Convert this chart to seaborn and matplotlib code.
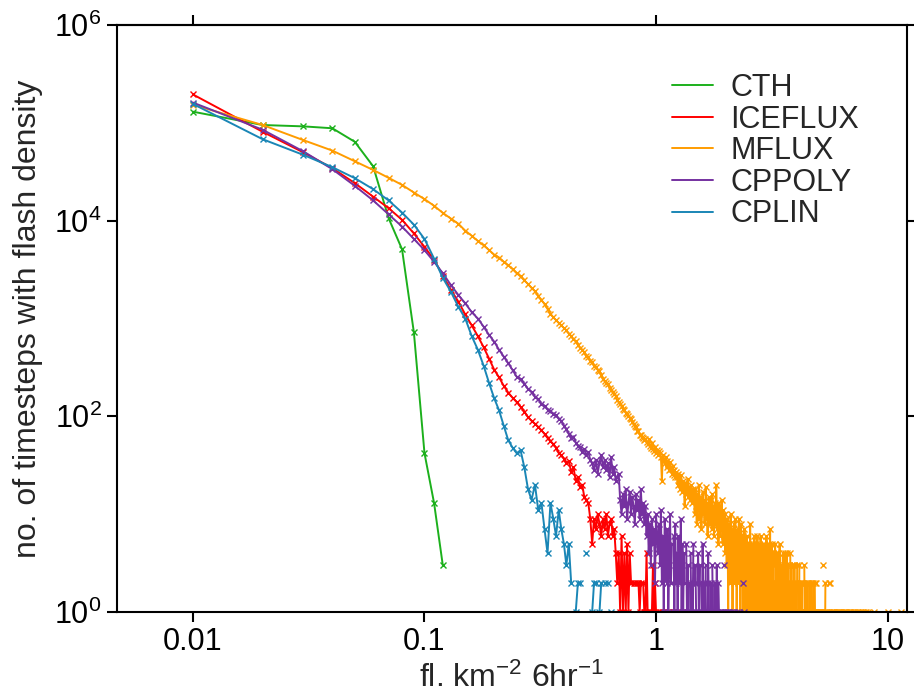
import numpy as np
import pandas as pd
import matplotlib
matplotlib.use("Agg")
import matplotlib.pyplot as plt
import seaborn as sns
from matplotlib.lines import Line2D
from matplotlib.ticker import FixedLocator, FixedFormatter, NullLocator, NullFormatter

# ---------------- data (counts per 0.01-wide flash-density bin, first bin = 0.01) ----------------
BIN_WIDTH = 0.01
series_names = ["CTH", "ICEFLUX", "MFLUX", "CPPOLY", "CPLIN"]
series_colors = ["#1cb01c", "#ff0000", "#ff9c00", "#7531a0", "#1a86b6"]

cth_counts = [130000, 95000, 92000, 88000, 64000, 36000, 10600, 5100, 720, 42, 13, 3]

iceflux_counts = [
    195000, 81000, 49800, 34400, 24200, 17600, 13400, 10200, 7400, 5400, 4000, 2750,
    1970, 1490, 1100, 850, 660, 510, 390, 300, 250, 205, 175,
    155, 140, 125, 112, 98, 90, 84, 78, 72, 66, 60, 56, 52, 48, 42, 40, 37, 33, 35, 27,
    30, 22, 24, 19, 20, 15, 14, 13,
    9, 5, 9, 7, 10, 8, 6, 9, 7, 10, 6, 8, 9, 6, 7, 4, 2, 4, 1, 6, 1, 4, 1, 5, 1, 4, 2,
    0, 2, 2, 0, 2, 2, 1, 2, 0, 2, 1, 1, 4, 1, 0, 1, 1, 1, 3, 1, 2, 1,
    0, 1, 0, 1, 0, 0, 1, 0, 1, 1, 0, 0, 1, 0, 1, 0, 0, 1, 0, 1, 0, 0, 0, 1, 0, 0, 1, 0, 0, 1,
]

mflux_counts = [
    153000, 95000, 66500, 52000, 40500, 33000, 27400, 23200, 19400, 16600, 14200, 12000,
    10500, 9300, 7900, 7000, 6200, 5600, 5000, 4500, 4200, 3800, 3500, 3200, 2900,
    2700, 2450, 2250, 2050, 1900, 1700, 1550, 1400, 1250, 1120, 1030, 960, 900, 850, 800, 760,
    700, 665, 612, 585, 538, 505, 482, 452, 418, 405, 368, 362, 328, 322, 298, 288, 262, 238, 232,
    220, 212, 194, 186, 176, 168, 161, 148, 141, 134, 128, 119, 116, 109, 106,
    100, 97, 93, 87, 83, 79, 77, 71, 70, 65, 64, 61, 60, 57, 58, 55,
    52, 58, 50, 48, 54, 46, 44, 49, 42, 45, 40, 44, 42,
    38, 22, 40, 36, 33, 38, 30, 35, 32, 28, 34, 29, 26, 31, 25, 28, 24, 27,
    24, 20, 26, 22, 18, 25, 20, 17, 22, 19, 12, 21, 16, 18, 23, 15, 19, 14, 20, 17, 13, 18, 16,
    14, 10, 18, 12, 8, 16, 11, 20, 9, 13, 15, 7, 12, 17, 10,
    14, 8, 11, 19, 9, 13, 6, 12, 15, 10, 8, 14, 11, 7, 16, 9, 12, 6, 10, 13,
    8, 20, 11, 7, 13, 5, 9, 12, 6, 10, 8, 14, 7, 5, 11, 8, 6, 10, 4, 9,
    7, 3, 9, 5, 1, 8, 4, 6, 2, 10, 5, 3, 7, 1, 6, 4, 8, 2, 5, 9, 3, 6, 1, 4, 7,
    2, 5, 9, 3, 6, 1, 4, 8, 2, 5, 3, 1, 6, 4, 2, 7, 3, 1, 5, 2, 4, 6, 1, 3, 2, 5, 1, 4, 2, 8,
    3, 1, 4, 2, 5,
    3, 5, 1, 4, 2, 6, 1, 3, 5, 2, 4, 1, 3, 6, 2, 4, 1, 5, 3, 1, 4, 2, 6, 1, 3, 4, 1, 2, 5, 1,
    3, 2, 1, 5, 2, 1, 4, 1, 3, 6, 1, 2, 4, 1, 3, 1, 5, 2, 1, 3, 7, 2, 1, 4, 1, 2, 5, 1, 3, 1,
    4, 1, 2, 1, 0, 3, 5, 1, 2, 1, 4, 1, 0, 2, 1, 3, 4, 1, 0, 1, 2, 5, 1, 2, 0, 1, 3, 2, 1, 0,
    2, 1, 4, 1, 2, 0, 1, 3, 1, 4,
    1, 0, 2, 1, 3, 0, 1, 4, 1, 0, 2, 1, 1, 3, 0, 1, 2, 1, 0, 4, 1, 2, 0, 1, 1, 3, 0, 1, 2, 1,
    0, 1, 3, 0, 1, 3, 1, 0, 2, 1, 1, 0, 2, 1, 0, 1, 3, 0, 1, 1, 0, 2, 1, 0, 1, 3, 0, 1, 2, 1,
    0, 1, 2, 0, 1, 0, 1, 2, 0, 1, 1, 0, 2, 0, 1, 0, 3, 1, 0, 1, 2, 0, 0, 1, 1, 0, 2, 1, 0, 1,
    0, 1, 2, 0, 1, 0, 0, 1, 2, 0, 1, 0, 1, 0, 2, 1, 0, 0, 1, 0, 2, 1, 0, 1, 0, 0, 1, 2, 0, 1,
    0, 1, 0, 0, 2, 1, 0, 1, 0, 0, 1, 0, 2, 0, 1, 0, 0, 1, 0, 1,
]
# sparse far tail of MFLUX: bin index (x = index * 0.01) and count
mflux_tail_bins = [503, 504, 508, 511, 512, 517, 522, 528, 531, 538, 539, 544, 549, 556, 560,
                   565, 571, 578, 584, 585, 590, 597, 603, 611, 618, 624, 632, 640, 647, 655,
                   662, 671, 680, 688, 697, 706, 715, 726, 737, 748, 760, 772, 785, 797, 810,
                   822, 870, 1000, 1140]
mflux_tail_counts = [1, 1, 1, 1, 1, 1, 1, 3, 1, 1, 2, 1, 1, 1, 2,
                     2, 1, 1, 1, 1, 1, 1, 1, 1, 1, 1, 1, 1, 1, 1,
                     1, 1, 1, 1, 1, 1, 1, 1, 1, 1, 1, 1, 1, 1, 1,
                     1, 1, 1, 1]

cppoly_counts = [
    161000, 85000, 51000, 33600, 22700, 16100, 11600, 8700, 6500, 5000, 3800, 2900,
    2200, 1740, 1430, 1160, 1000, 826, 680, 580, 478, 408, 349, 298, 255,
    238, 216, 190, 178, 158, 150, 134, 128, 117, 114, 106, 103, 94, 90,
    80, 74, 66, 60, 62, 54, 50, 49, 43, 46, 40, 43, 36, 33,
    28, 36, 26, 34, 40, 30, 36, 28, 33, 24, 38, 26, 30, 22, 24, 26,
    14, 10, 16, 12, 18, 9, 13, 17, 10, 15, 12, 8, 16, 11, 14, 9, 18, 10, 13, 8, 12,
    6, 10, 4, 8, 3, 9, 5, 7, 2, 10, 6, 4, 8, 3,
    11, 2, 6, 1, 9, 4, 2, 7, 1, 3, 10, 2, 5, 0, 6, 1, 8, 2, 4, 1, 6, 2, 3, 9, 1, 5,
    1, 4, 2, 0, 5, 1, 3, 1, 2, 0, 4, 1, 2, 1, 5, 0, 2, 3, 1, 0, 2, 4, 1, 1, 3, 0, 2, 1, 5, 1,
    0, 2, 1, 3, 0, 1, 2, 4, 1, 0, 1, 2, 1, 0, 3, 1, 0, 1, 2, 1, 0, 1, 3, 1, 0, 2, 1, 0, 1, 1,
    0, 1, 0, 1, 0, 0, 3, 0, 1, 0, 1, 0, 0, 1, 0, 0, 1, 0, 0, 0, 1, 0, 0, 1, 0, 0, 0, 1, 0, 0,
    0, 0, 1, 0, 0, 0, 0, 0, 1, 0, 0, 0, 0, 0, 0, 0, 2, 0, 0, 1,
]

cplin_counts = [
    156000, 68000, 47000, 35200, 27200, 21000, 16100, 12100, 9100, 6500, 4100, 2600,
    1880, 1320, 1000, 660, 480, 330, 220, 153,
    115, 80, 57, 48, 42, 45, 30, 18, 14, 20, 11, 13, 7, 4, 13, 9, 6, 11, 7, 5, 3, 5, 2, 0,
    1, 2, 2, 0, 0, 4, 0, 0, 1, 2, 2, 0, 1, 2, 0, 2, 0, 2, 0, 1,
]

xtick_values = [0.01, 0.1, 1, 10]
xtick_labels = ["0.01", "0.1", "1", "10"]
top_tick_values = [0.01, 1]
ytick_values = [1, 1e2, 1e4, 1e6]
ytick_labels = ["$10^0$", "$10^2$", "$10^4$", "$10^6$"]


def full_counts(dense, tail_bins=(), tail_counts=()):
    n = max([len(dense)] + list(tail_bins))
    arr = np.zeros(n)
    arr[:len(dense)] = dense
    for b, c in zip(tail_bins, tail_counts):
        arr[b - 1] = c
    return arr


all_counts = {
    "CTH": full_counts(cth_counts),
    "ICEFLUX": full_counts(iceflux_counts),
    "MFLUX": full_counts(mflux_counts, mflux_tail_bins, mflux_tail_counts),
    "CPPOLY": full_counts(cppoly_counts),
    "CPLIN": full_counts(cplin_counts),
}

rows = []
for name in series_names:
    seg = 0
    gap = True
    for i, c in enumerate(all_counts[name]):
        if c <= 0:
            gap = True
            continue
        if gap:
            seg += 1
            gap = False
        rows.append({"series": name, "x": (i + 1) * BIN_WIDTH, "count": c, "seg": f"{name}_{seg}"})
df = pd.DataFrame(rows)

# ---------------- styling ----------------
sns.set_theme(style="ticks")
plt.rcParams["font.family"] = ["Liberation Sans", "DejaVu Sans"]
plt.rcParams["mathtext.fontset"] = "custom"
plt.rcParams["mathtext.rm"] = "Liberation Sans"
plt.rcParams["mathtext.it"] = "Liberation Sans:italic"
plt.rcParams["mathtext.bf"] = "Liberation Sans:bold"

fig = plt.figure(figsize=(9.14, 6.96), dpi=100)
ax = fig.add_axes([117 / 914, 1 - 612 / 696, 790 / 914, 587 / 696])
ax.set_xscale("log")
ax.set_yscale("log")

for name, col in zip(series_names, series_colors):
    sub = df[df["series"] == name]
    sns.lineplot(data=sub, x="x", y="count", units="seg", estimator=None, sort=False,
                 color=col, linewidth=1.4, marker="x", markersize=4,
                 markeredgewidth=1.0, markeredgecolor=col, legend=False, ax=ax)

ax.set_xlim(10 ** -2.328, 10 ** 1.084)
ax.set_ylim(1, 1e6)

ax.xaxis.set_major_locator(FixedLocator(xtick_values))
ax.xaxis.set_major_formatter(FixedFormatter(xtick_labels))
ax.xaxis.set_minor_locator(NullLocator())
ax.yaxis.set_major_locator(FixedLocator(ytick_values))
ax.yaxis.set_major_formatter(FixedFormatter(ytick_labels))
ax.yaxis.set_minor_locator(NullLocator())
ax.tick_params(which="major", direction="out", length=7, width=1.5, top=False, right=True,
               labelsize=22, pad=4, colors="black")
for sp in ax.spines.values():
    sp.set_visible(True)
    sp.set_linewidth(1.5)
    sp.set_color("black")

# top axis: ticks only every second decade
secax = ax.secondary_xaxis("top")
secax.xaxis.set_major_locator(FixedLocator(top_tick_values))
secax.xaxis.set_minor_locator(NullLocator())
secax.xaxis.set_major_formatter(NullFormatter())
secax.tick_params(which="major", direction="out", length=7, width=1.5, colors="black")
secax.spines["top"].set_linewidth(1.5)

ax.set_xlabel("fl. km$^{-2}$ 6hr$^{-1}$", fontsize=23, labelpad=4)
ax.set_ylabel("no. of timesteps with flash density", fontsize=23, labelpad=8)

handles = [Line2D([], [], color=c, linewidth=1.4) for c in series_colors]
ax.legend(handles, series_names, loc="upper left", bbox_to_anchor=(0.7025, 0.918),
          frameon=False, fontsize=22, handlelength=1.35, handletextpad=0.55,
          labelspacing=0.05, borderpad=0, borderaxespad=0)

fig.savefig("out.png", dpi=100, facecolor="white")
